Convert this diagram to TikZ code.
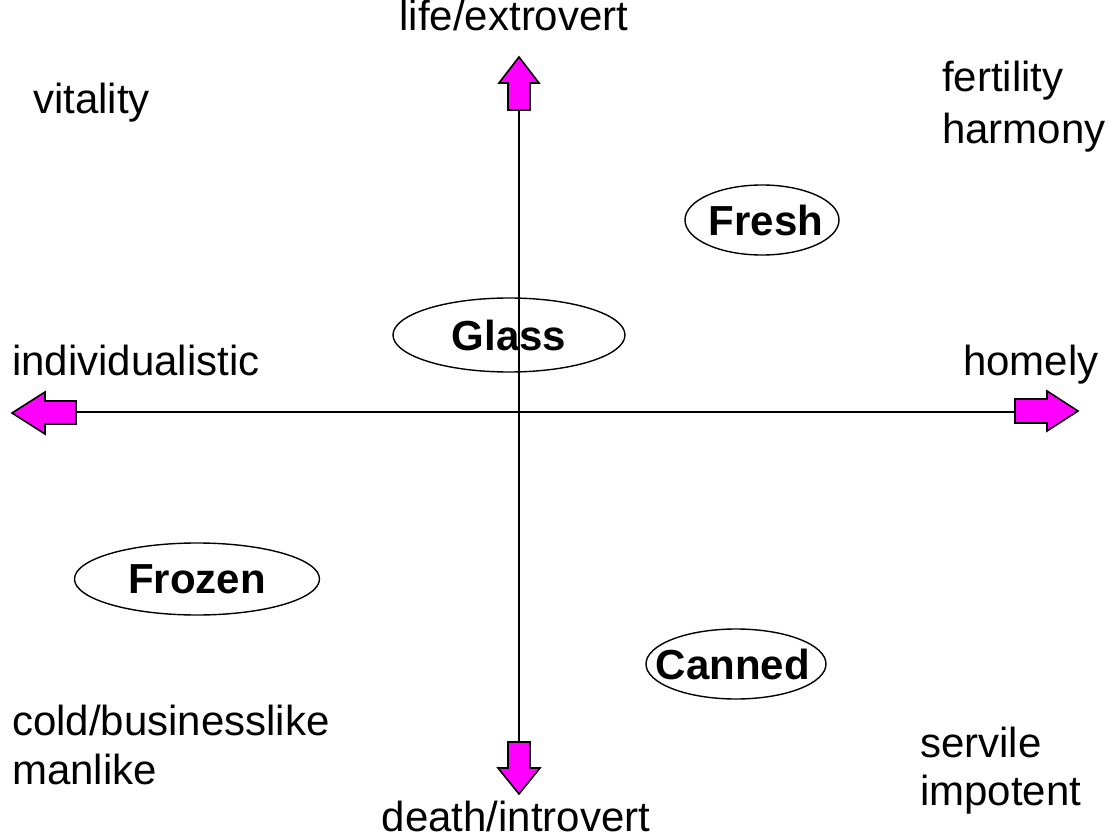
\documentclass[tikz,border=0pt]{standalone}
\usepackage{fontspec}
\setmainfont{Liberation Sans}
\usetikzlibrary{shapes.geometric}
\definecolor{arrowfill}{RGB}{255,0,255}
\tikzset{
  lbl/.style={inner sep=0pt, font=\fontsize{42}{54}\selectfont, anchor=base west, align=left},
  ctr/.style={inner sep=0pt, font=\fontsize{42}{54}\selectfont, anchor=base},
  tag/.style={ellipse, draw, line width=1.4pt, inner sep=0pt},
  tagtext/.style={inner sep=0pt, font=\fontsize{42}{50}\selectfont\bfseries},
  axis/.style={line width=1.4pt},
  tip/.style={fill=arrowfill, draw=black, line width=1.6pt, line join=miter},
}
\begin{document}
\begin{tikzpicture}[x=1pt, y=-1pt]
\useasboundingbox (0,0) rectangle (1109,840);

% axis end points
\coordinate (top) at (519,110);
\coordinate (bottom) at (519,742);
\coordinate (left) at (76,412);
\coordinate (right) at (1015,412);

\draw[axis] (top) -- (bottom);
\draw[axis] (left) -- (right);

% block arrows at the ends of the axes
\draw[tip] (508,110) -- (508,83) -- (499,83) -- (519,57) -- (539,83) -- (530,83) -- (530,110) -- cycle;
\draw[tip] (508,742) -- (508,768) -- (498,768) -- (519,794) -- (540,768) -- (530,768) -- (530,742) -- cycle;
\draw[tip] (76,401) -- (45,401) -- (45,392) -- (12,413) -- (45,434) -- (45,424) -- (76,424) -- cycle;
\draw[tip] (1015,399) -- (1047,399) -- (1047,391) -- (1078,411) -- (1047,431) -- (1047,423) -- (1015,423) -- cycle;

% axis captions
\node[ctr] (up) at (514,31) {life/extrovert};
\node[ctr] (down) at (516,831) {death/introvert};
\node[lbl] (indiv) at (12,375) {individualistic};
\node[lbl] (homely) at (963,375) {homely};

% quadrant captions
\node[lbl] (vital) at (33,114) {vitality};
\node[lbl] (fert) at (942,92) {fertility};
\node[lbl] (harm) at (942,144) {harmony};
\node[lbl] (cold) at (12,735) {cold/businesslike};
\node[lbl] (man) at (12,784) {manlike};
\node[lbl] (serv) at (920,757) {servile};
\node[lbl] (impo) at (920,805) {impotent};

% product categories
\node[tag, minimum width=232pt, minimum height=74pt] (glass) at (509,335) {};
\node[tagtext] at (glass.center) {Glass};
\node[tag, minimum width=154pt, minimum height=70pt] (fresh) at (762,220) {};
\node[tagtext] at ([xshift=4pt]fresh.center) {Fresh};
\node[tag, minimum width=245pt, minimum height=72pt] (frozen) at (197,579) {};
\node[tagtext] at (frozen.center) {Frozen};
\node[tag, minimum width=180pt, minimum height=70pt] (canned) at (736,664) {};
\node[tagtext] at ([xshift=-3pt]canned.center) {Canned};
\end{tikzpicture}
\end{document}
